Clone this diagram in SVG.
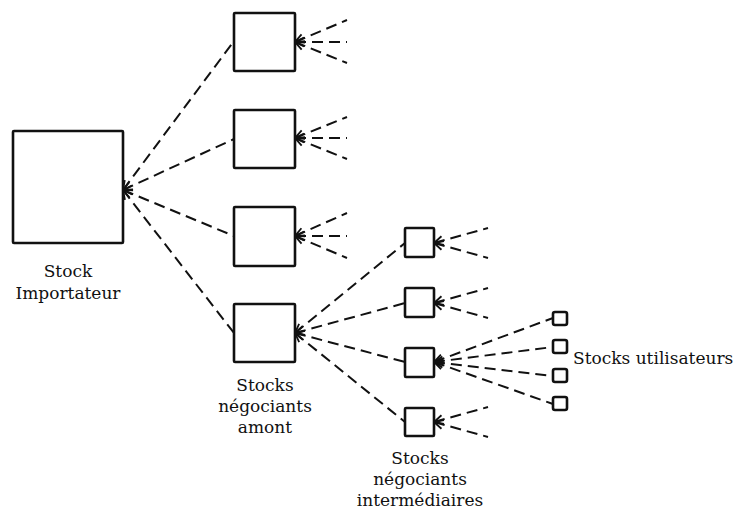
<svg xmlns="http://www.w3.org/2000/svg" width="738" height="514" viewBox="0 0 738 514">
  <style>
    .box { fill: #fff; stroke: #111; stroke-width: 2.6; }
    .flow { fill: none; stroke: #111; stroke-width: 2; stroke-dasharray: 11 6; marker-start: url(#head); }
    text { font-family: "DejaVu Serif", "Liberation Serif", serif; font-size: 17px; fill: #111; text-anchor: middle; }
  </style>
  <defs>
    <marker id="head" markerUnits="userSpaceOnUse" markerWidth="14" markerHeight="14" viewBox="-12 -7 14 14" refX="0" refY="0" orient="auto-start-reverse">
      <path d="M-9,-4.5 L0,0 L-9,4.5" fill="none" stroke="#111" stroke-width="1.8"/>
    </marker>
  </defs>

  <!-- connectors: every flow runs from the supplier back to the stock it feeds -->
  <g id="connectors">
    <!-- importer to upstream traders -->
    <path class="flow" d="M123,190 L234,41"/>
    <path class="flow" d="M123,190 L234,139"/>
    <path class="flow" d="M123,190 L234,236"/>
    <path class="flow" d="M123,190 L234,333"/>
    <!-- open fans on upstream traders 1-3 -->
    <path class="flow" d="M295,42 L347,20"/>
    <path class="flow" d="M295,42 L347,42"/>
    <path class="flow" d="M295,42 L347,63"/>
    <path class="flow" d="M295,138 L347,117"/>
    <path class="flow" d="M295,138 L347,138"/>
    <path class="flow" d="M295,138 L347,159"/>
    <path class="flow" d="M295,236 L347,213"/>
    <path class="flow" d="M295,236 L347,236"/>
    <path class="flow" d="M295,236 L347,258"/>
    <!-- upstream trader 4 to intermediate traders -->
    <path class="flow" d="M295,333 L405,243"/>
    <path class="flow" d="M295,333 L405,303"/>
    <path class="flow" d="M295,333 L405,362"/>
    <path class="flow" d="M295,333 L405,422"/>
    <!-- open fans on intermediate traders -->
    <path class="flow" d="M434,243 L488,228"/>
    <path class="flow" d="M434,243 L488,258"/>
    <path class="flow" d="M434,303 L488,288"/>
    <path class="flow" d="M434,303 L488,318"/>
    <path class="flow" d="M434,422 L488,407"/>
    <path class="flow" d="M434,422 L488,437"/>
    <!-- intermediate trader 3 to end users -->
    <path class="flow" d="M434,362 L553,318"/>
    <path class="flow" d="M434,362 L553,347"/>
    <path class="flow" d="M434,362 L553,376"/>
    <path class="flow" d="M434,362 L553,404"/>
  </g>

  <g id="importateur">
    <rect class="box" x="13" y="131" width="110" height="112" rx="1"/>
    <text x="68" y="277">Stock</text>
    <text x="68" y="299">Importateur</text>
  </g>

  <g id="amont-1"><rect class="box" x="234" y="13" width="61" height="58" rx="1"/></g>
  <g id="amont-2"><rect class="box" x="234" y="110" width="61" height="58" rx="1"/></g>
  <g id="amont-3"><rect class="box" x="234" y="207" width="61" height="59" rx="1"/></g>
  <g id="amont-4">
    <rect class="box" x="234" y="304" width="61" height="58" rx="1"/>
    <text x="265" y="391">Stocks</text>
    <text x="265" y="412">négociants</text>
    <text x="265" y="433">amont</text>
  </g>

  <g id="inter-1"><rect class="box" x="405" y="228" width="29" height="29" rx="1"/></g>
  <g id="inter-2"><rect class="box" x="405" y="288" width="29" height="29" rx="1"/></g>
  <g id="inter-3"><rect class="box" x="405" y="348" width="29" height="29" rx="1"/></g>
  <g id="inter-4">
    <rect class="box" x="405" y="408" width="29" height="28" rx="1"/>
    <text x="420" y="464">Stocks</text>
    <text x="420" y="485">négociants</text>
    <text x="420" y="506">intermédiaires</text>
  </g>

  <g id="utilisateur-1"><rect class="box" x="553" y="312" width="14" height="13" rx="2"/></g>
  <g id="utilisateur-2"><rect class="box" x="553" y="340" width="14" height="13" rx="2"/></g>
  <g id="utilisateur-3"><rect class="box" x="553" y="369" width="14" height="13" rx="2"/></g>
  <g id="utilisateur-4"><rect class="box" x="553" y="397" width="14" height="13" rx="2"/></g>
  <g id="utilisateurs-label">
    <text x="573" y="364" style="text-anchor:start">Stocks utilisateurs</text>
  </g>
</svg>
